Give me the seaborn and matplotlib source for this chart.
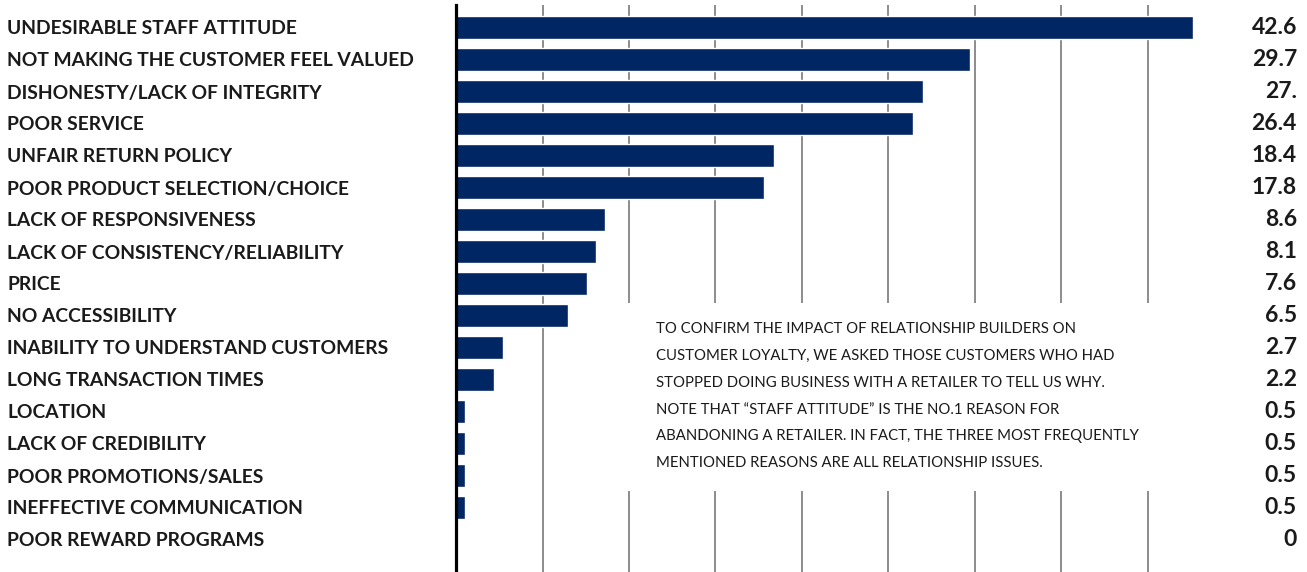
import matplotlib
matplotlib.use("Agg")
import matplotlib.pyplot as plt
import seaborn as sns
from matplotlib.patches import Rectangle
import matplotlib.transforms as mtransforms

categories = [
    "UNDESIRABLE STAFF ATTITUDE",
    "NOT MAKING THE CUSTOMER FEEL VALUED",
    "DISHONESTY/LACK OF INTEGRITY",
    "POOR SERVICE",
    "UNFAIR RETURN POLICY",
    "POOR PRODUCT SELECTION/CHOICE",
    "LACK OF RESPONSIVENESS",
    "LACK OF CONSISTENCY/RELIABILITY",
    "PRICE",
    "NO ACCESSIBILITY",
    "INABILITY TO UNDERSTAND CUSTOMERS",
    "LONG TRANSACTION TIMES",
    "LOCATION",
    "LACK OF CREDIBILITY",
    "POOR PROMOTIONS/SALES",
    "INEFFECTIVE COMMUNICATION",
    "POOR REWARD PROGRAMS",
]
values = [42.6, 29.7, 27.0, 26.4, 18.4, 17.8, 8.6, 8.1, 7.6, 6.5, 2.7, 2.2, 0.5, 0.5, 0.5, 0.5, 0.0]
value_labels = ["42.6", "29.7", "27.", "26.4", "18.4", "17.8", "8.6", "8.1", "7.6", "6.5",
                "2.7", "2.2", "0.5", "0.5", "0.5", "0.5", "0"]
gridlines = [5, 10, 15, 20, 25, 30, 35, 40]
note = ("TO CONFIRM THE IMPACT OF RELATIONSHIP BUILDERS ON\n"
        "CUSTOMER LOYALTY, WE ASKED THOSE CUSTOMERS WHO HAD\n"
        "STOPPED DOING BUSINESS WITH A RETAILER TO TELL US WHY.\n"
        "NOTE THAT \u201cSTAFF ATTITUDE\u201d IS THE NO.1 REASON FOR\n"
        "ABANDONING A RETAILER. IN FACT, THE THREE MOST FREQUENTLY\n"
        "MENTIONED REASONS ARE ALL RELATIONSHIP ISSUES.")

sns.set_theme(style="white")
plt.rcParams['font.family'] = ['Lato', 'DejaVu Sans']

W, H = 1307, 572
fig = plt.figure(figsize=(W / 100, H / 100), dpi=100)
ax_left, ax_right, ax_top = 456, 1297, 5
ax = fig.add_axes([ax_left / W, 0, (ax_right - ax_left) / W, (H - ax_top) / H])

navy = "#002663"
sns.barplot(x=values, y=categories, color=navy, width=0.72, saturation=1,
            orient="h", ax=ax, zorder=2)

px_per_unit = 17.3
ax.set_xlim(0, (ax_right - ax_left) / px_per_unit)
row_px = 32.0
first_center = 27.5
ax.set_ylim((H - first_center) / row_px, (ax_top - first_center) / row_px)

ax.set_xticks(gridlines)
ax.set_xticklabels([])
ax.tick_params(axis="x", length=0)
for g in gridlines:
    ax.axvline(g, color="#6e6e6e", lw=1.1, zorder=0.5)

# white note box hiding gridlines
x0 = (605 - ax_left) / px_per_unit
x1 = (1172 - ax_left) / px_per_unit
y0 = (303 - first_center) / row_px
y1 = (491 - first_center) / row_px
ax.add_patch(Rectangle((x0, y0), x1 - x0, y1 - y0, facecolor="white",
                       edgecolor="none", zorder=1.5))

ax.text((656 - ax_left) / px_per_unit, (322 - first_center) / row_px, note,
        ha="left", va="top", fontsize=10.7, color="#1a1a1a",
        linespacing=2.17, zorder=3)

for s in ["top", "right", "bottom"]:
    ax.spines[s].set_visible(False)
ax.spines["left"].set_color("black")
ax.spines["left"].set_linewidth(2.3)
ax.set_xlabel("")
ax.set_ylabel("")

ax.tick_params(axis="y", length=0, pad=(ax_left - 7) * 0.72)
for lbl in ax.get_yticklabels():
    lbl.set_horizontalalignment("left")
    lbl.set_fontweight("bold")
    lbl.set_fontsize(13.9)
    lbl.set_color("#1a1a1a")

trans = mtransforms.blended_transform_factory(ax.transAxes, ax.transData)
for i, v in enumerate(value_labels):
    ax.text(1.0, i, v, transform=trans, ha="right", va="center",
            fontsize=16.5, fontweight="bold", color="#1a1a1a")

fig.savefig("out.png", dpi=100)
